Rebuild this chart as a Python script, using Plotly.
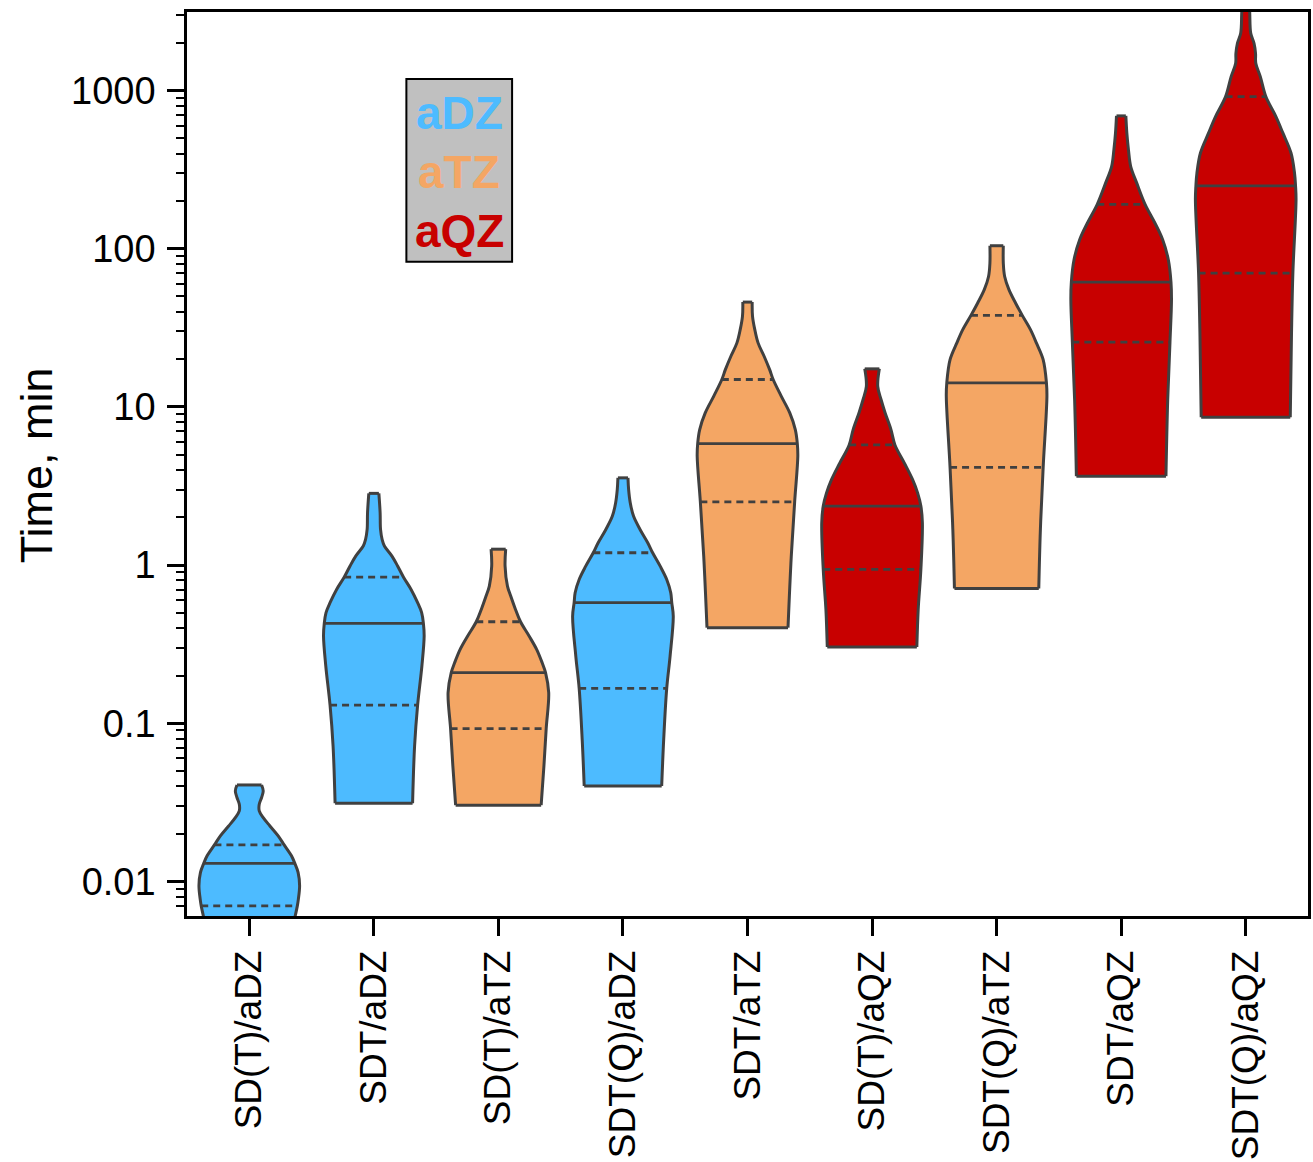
import numpy as np
import plotly.graph_objects as go

# ---------------- data ----------------
categories = ["SD(T)/aDZ", "SDT/aDZ", "SD(T)/aTZ", "SDT(Q)/aDZ", "SDT/aTZ",
              "SD(T)/aQZ", "SDT(Q)/aTZ", "SDT/aQZ", "SDT(Q)/aQZ"]
basis = ["aDZ", "aDZ", "aTZ", "aDZ", "aTZ", "aQZ", "aTZ", "aQZ", "aQZ"]
basis_names = ["aDZ", "aTZ", "aQZ"]
basis_colors = ["#4dbbff", "#f4a664", "#c80000"]

q1 = [0.0070, 0.130, 0.0925, 0.166, 2.51, 0.938, 4.15, 25.7, 70.2]
median = [0.0130, 0.428, 0.209, 0.578, 5.86, 2.36, 14.2, 61.6, 250]
q3 = [0.0170, 0.838, 0.438, 1.196, 14.9, 5.75, 37.9, 191, 916]

# density profiles (time in min, bottom -> top; relative density)
t0 = [0.0058, 0.0070, 0.0077, 0.0094, 0.0114, 0.0130, 0.0145, 0.0170, 0.0194,
      0.0224, 0.0253, 0.0279, 0.0307, 0.0339, 0.0373, 0.0407]
d0 = [0.90, 0.955, 0.975, 1.0, 0.97, 0.905, 0.838, 0.693, 0.574,
      0.41, 0.277, 0.198, 0.198, 0.245, 0.277, 0.245]
t1 = [0.0312, 0.0718, 0.130, 0.230, 0.356, 0.428, 0.50, 0.578, 0.701, 0.838,
      0.984, 1.14, 1.32, 1.45, 1.68, 2.14, 2.84]
d1 = [0.77, 0.81, 0.87, 0.955, 1.0, 0.985, 0.95, 0.87, 0.74, 0.59,
      0.475, 0.36, 0.21, 0.165, 0.133, 0.125, 0.10]
t2 = [0.0303, 0.0537, 0.0925, 0.156, 0.209, 0.241, 0.293, 0.356, 0.438,
      0.524, 0.637, 0.736, 0.984, 1.26]
d2 = [0.85, 0.905, 0.95, 1.0, 0.937, 0.87, 0.76, 0.61, 0.44,
      0.34, 0.245, 0.18, 0.133, 0.145]
t3 = [0.0401, 0.079, 0.166, 0.266, 0.475, 0.578, 0.668, 0.811, 0.984, 1.196,
      1.38, 1.68, 2.04, 2.48, 3.0, 3.56]
d3 = [0.77, 0.81, 0.87, 0.937, 1.0, 0.97, 0.95, 0.87, 0.74, 0.59,
      0.495, 0.34, 0.21, 0.145, 0.113, 0.10]
t4 = [0.402, 1.14, 2.51, 4.87, 5.86, 7.19, 9.16, 11.7, 14.9, 17.2, 20.9,
      25.4, 30.8, 37.4, 46.0]
d4 = [0.805, 0.87, 0.937, 1.0, 0.99, 0.95, 0.84, 0.67, 0.51, 0.44, 0.33,
      0.21, 0.145, 0.10, 0.093]
t5 = [0.303, 0.524, 0.938, 1.85, 2.36, 2.86, 3.47, 4.43, 5.75, 7.19, 9.16,
      11.1, 13.5, 17.4]
d5 = [0.89, 0.917, 0.97, 1.0, 0.97, 0.905, 0.806, 0.64, 0.455, 0.376, 0.26,
      0.18, 0.113, 0.145]
t6 = [0.711, 1.68, 4.15, 11.7, 14.2, 19.9, 25.4, 30.8, 37.9, 45.4, 55.1,
      66.8, 81.2, 104.5]
d6 = [0.838, 0.87, 0.925, 1.0, 0.99, 0.925, 0.79, 0.673, 0.51, 0.376, 0.245,
      0.16, 0.133, 0.133]
t7 = [3.65, 11.1, 25.7, 47.6, 61.6, 85.2, 114, 145, 191, 260, 331, 422, 538, 692]
d7 = [0.89, 0.925, 0.97, 1.0, 0.99, 0.937, 0.825, 0.673, 0.475, 0.31, 0.19,
      0.145, 0.113, 0.093]
t8 = [8.59, 29.3, 70.2, 204, 250, 301, 403, 538, 685, 916, 1225, 1490, 1722,
      1992, 2305, 3083, 3740]
d8 = [0.885, 0.91, 0.937, 1.0, 0.99, 0.97, 0.90, 0.74, 0.60, 0.40, 0.29,
      0.20, 0.195, 0.165, 0.10, 0.08, 0.07]

y_tick_vals = [0.01, 0.1, 1, 10, 100, 1000]
y_tick_text = ["0.01", "0.1", "1", "10", "100", "1000"]

profiles_t = [t0, t1, t2, t3, t4, t5, t6, t7, t8]
profiles_d = [d0, d1, d2, d3, d4, d5, d6, d7, d8]

# ---------------- styling ----------------
FONT = "Liberation Sans, Arial, Helvetica, sans-serif"
HALF_W = 0.404
EDGE = "#404040"
color_of = dict(zip(basis_names, basis_colors))
side_line = dict(color=EDGE, width=3, shape="spline", smoothing=1.0)

fig = go.Figure()

for i, (ts, ds) in enumerate(zip(profiles_t, profiles_d)):
    ts = np.asarray(ts, float)
    ds = np.asarray(ds, float)
    xl = i - HALF_W * ds
    xr = i + HALF_W * ds
    # left side
    fig.add_trace(go.Scatter(x=xl, y=ts, mode="lines", line=side_line,
                             hoverinfo="skip", showlegend=False))
    # right side, filled to the left side
    fig.add_trace(go.Scatter(x=xr, y=ts, mode="lines", line=side_line,
                             fill="tonextx", fillcolor=color_of[basis[i]],
                             hoverinfo="skip", showlegend=False))
    # flat caps at min and max
    fig.add_trace(go.Scatter(
        x=[xl[0], xr[0], None, xl[-1], xr[-1]],
        y=[ts[0], ts[0], None, ts[-1], ts[-1]],
        mode="lines", line=dict(color=EDGE, width=3),
        hoverinfo="skip", showlegend=False))
    lt = np.log10(ts)
    for val, dash in ((q1[i], "7px,5px"), (median[i], "solid"), (q3[i], "7px,5px")):
        w = HALF_W * np.interp(np.log10(val), lt, ds)
        fig.add_trace(go.Scatter(
            x=[i - w, i + w], y=[val, val], mode="lines",
            line=dict(color=EDGE, width=2.8, dash=dash),
            hoverinfo="skip", showlegend=False))

minor_vals = [m * 10.0 ** e for e in range(-3, 4) for m in range(2, 10)]

fig.update_layout(
    width=1313, height=1162,
    margin=dict(l=187, r=2, t=12, b=245),
    plot_bgcolor="white", paper_bgcolor="white",
    font=dict(family=FONT, color="black"),
    xaxis=dict(
        range=[-0.5, 8.5], tickmode="array", tickvals=list(range(len(categories))),
        ticktext=categories, tickangle=-90, ticks="outside", ticklen=17,
        tickwidth=2.5, tickcolor="black", showline=True, linewidth=2.5,
        linecolor="black", mirror=True, showgrid=False, zeroline=False,
        tickfont=dict(size=37, family=FONT, color="black")),
    yaxis=dict(
        type="log", range=[-2.219, 3.497], tickmode="array",
        tickvals=y_tick_vals, ticktext=y_tick_text, ticks="outside",
        ticklen=17, tickwidth=2.5, tickcolor="black", showline=True,
        linewidth=2.5, linecolor="black", mirror=True, showgrid=False,
        zeroline=False, ticklabelstandoff=4,
        tickfont=dict(size=38, family=FONT, color="black"),
        minor=dict(tickmode="array", tickvals=minor_vals, ticks="outside",
                   ticklen=8, tickwidth=2, tickcolor="black", showgrid=False)),
)

fig.add_annotation(
    text="Time, min", xref="paper", yref="paper", x=-0.1335, y=0.499,
    xanchor="center", yanchor="middle", textangle=-90, showarrow=False,
    font=dict(size=45, family=FONT, color="black"))

# legend box
fig.add_shape(type="rect", xref="paper", yref="paper",
              x0=0.1957, x1=0.2900, y0=0.7238, y1=0.9260,
              fillcolor="#c0c0c0", line=dict(color="black", width=2))
for name, col, yy in zip(basis_names, basis_colors, [0.888, 0.823, 0.758]):
    fig.add_annotation(
        text="<b>%s</b>" % name, xref="paper", yref="paper", x=0.2428, y=yy,
        xanchor="center", yanchor="middle", showarrow=False,
        font=dict(size=46, family=FONT, color=col))

fig.write_html("out.html")
